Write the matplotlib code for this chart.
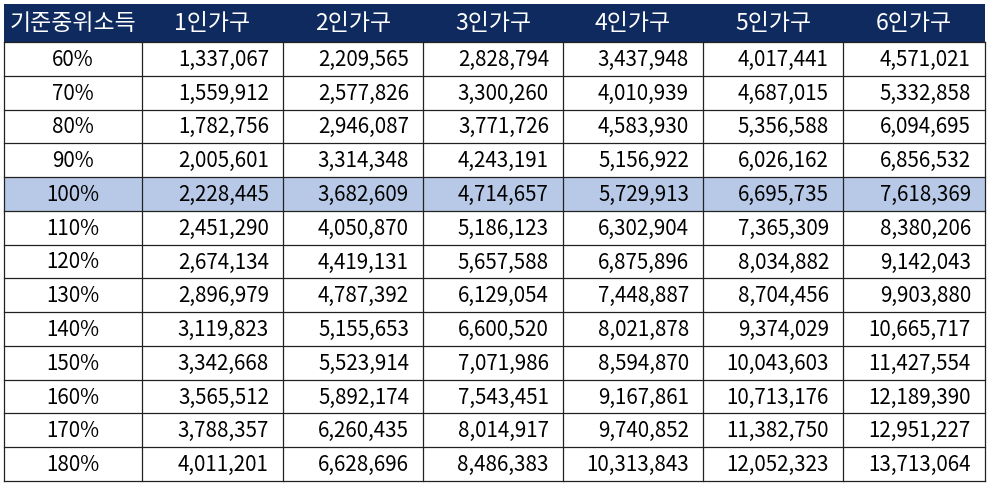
import matplotlib
matplotlib.use("Agg")
import matplotlib.pyplot as plt
from matplotlib.patches import Rectangle

plt.rcParams['font.family'] = ['Noto Sans CJK KR', 'DejaVu Sans']

headers = ['기준중위소득', '1인가구', '2인가구', '3인가구', '4인가구', '5인가구', '6인가구']
levels = ['60%', '70%', '80%', '90%', '100%', '110%', '120%', '130%', '140%', '150%', '160%', '170%', '180%']
h1 = [1337067, 1559912, 1782756, 2005601, 2228445, 2451290, 2674134, 2896979, 3119823, 3342668, 3565512, 3788357, 4011201]
h2 = [2209565, 2577826, 2946087, 3314348, 3682609, 4050870, 4419131, 4787392, 5155653, 5523914, 5892174, 6260435, 6628696]
h3 = [2828794, 3300260, 3771726, 4243191, 4714657, 5186123, 5657588, 6129054, 6600520, 7071986, 7543451, 8014917, 8486383]
h4 = [3437948, 4010939, 4583930, 5156922, 5729913, 6302904, 6875896, 7448887, 8021878, 8594870, 9167861, 9740852, 10313843]
h5 = [4017441, 4687015, 5356588, 6026162, 6695735, 7365309, 8034882, 8704456, 9374029, 10043603, 10713176, 11382750, 12052323]
h6 = [4571021, 5332858, 6094695, 6856532, 7618369, 8380206, 9142043, 9903880, 10665717, 11427554, 12189390, 12951227, 13713064]
highlight = '100%'

W, H = 990, 484
fig = plt.figure(figsize=(9.9, 4.84), dpi=100)
ax = fig.add_axes([0, 0, 1, 1])
ax.set_xlim(0, W); ax.set_ylim(H, 0); ax.axis('off')

xs = [4, 142, 283, 423, 563, 703, 843, 985]
top, hb, bot = 4, 42, 481
nrows = len(levels)
rh = (bot - hb) / nrows
ax.add_patch(Rectangle((xs[0], top), xs[-1] - xs[0], hb - top, color='#0f2a5f', lw=0))
for j, t in enumerate(headers):
    ax.text((xs[j] + xs[j+1]) / 2, (top + hb) / 2 + 1, t, color='white', fontsize=16.5,
            ha='center', va='center')
cols = [h1, h2, h3, h4, h5, h6]
for i, lv in enumerate(levels):
    y0 = hb + i * rh
    if lv == highlight:
        ax.add_patch(Rectangle((xs[0], y0), xs[-1] - xs[0], rh, color='#b7c9e6', lw=0))
    yc = y0 + rh / 2 + 1
    ax.text((xs[0] + xs[1]) / 2, yc, lv, fontsize=14.8, ha='center', va='center', color='#000')
    for j, c in enumerate(cols):
        ax.text(xs[j + 2] - 14, yc, f'{c[i]:,}', fontsize=14.8, ha='right', va='center', color='#000')
for i in range(nrows + 1):
    y = hb + i * rh
    ax.plot([xs[0], xs[-1]], [y, y], color='#222', lw=0.9)
for x in xs:
    ax.plot([x, x], [hb, bot], color='#222', lw=0.9)
fig.savefig('out.png', dpi=100)
